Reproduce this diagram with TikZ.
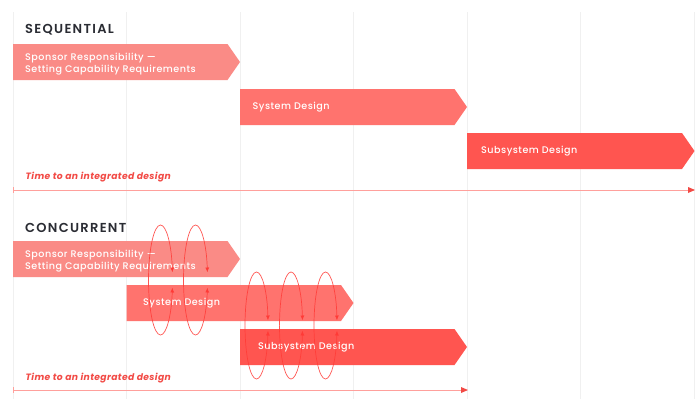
\documentclass[tikz,border=0pt]{standalone}
\usepackage{fontspec}
\setmainfont{Poppins}
\newfontfamily\pmed[LetterSpace=5]{Poppins Medium}
\newfontfamily\ptitle[LetterSpace=10]{Poppins SemiBold}
\newfontfamily\pital[LetterSpace=4]{Poppins}
\usetikzlibrary{arrows.meta}
\definecolor{gridc}{HTML}{F0F0F0}
\definecolor{boxa}{HTML}{FA8B86}
\definecolor{boxb}{HTML}{FF736E}
\definecolor{boxc}{HTML}{FF5550}
\definecolor{labred}{HTML}{F24A45}
\definecolor{axisc}{HTML}{FFA09C}
\definecolor{loopc}{HTML}{FF3A36}
\definecolor{titlec}{HTML}{2A2C33}
\newcommand{\chev}[5]{\fill[#5] (#1,#2) -- ({#3-12.5},#2) -- (#3,{(#2+#4)/2}) -- ({#3-12.5},#4) -- (#1,#4) -- cycle;}
\newcommand{\loopy}[4]{%
  \draw[loopline] (#1) ++(-#2pt,0) arc[start angle=180,end angle={asin(#4/#3)},x radius=#2pt,y radius=#3pt];
  \draw[loopline] (#1) ++(-#2pt,0) arc[start angle=180,end angle={360-asin(#4/#3)},x radius=#2pt,y radius=#3pt];}
\tikzset{
  gridline/.style={draw=gridc,line width=0.7pt},
  boxtext/.style={anchor=west,text=white,font=\pmed\fontsize{9.6}{12}\selectfont,align=left,inner sep=0pt},
  titletext/.style={anchor=west,text=titlec,font=\ptitle\fontsize{13}{15}\selectfont,inner sep=0pt},
  timetext/.style={anchor=west,text=labred,font=\pital\bfseries\itshape\fontsize{9.2}{11}\selectfont,inner sep=0pt},
  axisline/.style={draw=axisc,line width=0.8pt},
  axishead/.style={fill=labred},
  loopline/.style={draw=loopc,draw opacity=0.85,line width=0.7pt,-{Latex[length=5pt,width=4pt]}},
}
\begin{document}
\begin{tikzpicture}[x=1pt,y=-1pt]
\useasboundingbox (0,0) rectangle (700,399);
\fill[white] (0,0) rectangle (700,399);
% grid
\foreach \gx in {13,126.5,240,353.5,467,580.5,694}
  \draw[gridline] (\gx,12) -- (\gx,399);
% SEQUENTIAL
\node[titletext] (t1) at (25,29.5) {SEQUENTIAL};
\chev{13}{44}{240}{80}{boxa}
\node[boxtext] (s1) at (25,64) {Sponsor Responsibility —\\Setting Capability Requirements};
\chev{240}{89}{467}{125}{boxb}
\node[boxtext] (s2) at (252.5,107) {System Design};
\chev{467}{133}{694.5}{169}{boxc}
\node[boxtext] (s3) at (481,151) {Subsystem Design};
\node[timetext] (l1) at (25.5,177.5) {Time to an integrated design};
\coordinate (a1s) at (13,190);
\coordinate (a1e) at (688,190);
\draw[axisline] (a1s) -- (a1e);
\draw[axisline] (13,187) -- (13,193);
\fill[axishead] (688,187) -- (695,190) -- (688,193) -- cycle;
% CONCURRENT
\node[titletext] (t2) at (25,227.5) {CONCURRENT};
\chev{13}{241}{240}{277}{boxa}
\node[boxtext] (c1) at (25,261) {Sponsor Responsibility —\\Setting Capability Requirements};
\chev{126.5}{285}{353.5}{321}{boxb}
\node[boxtext] (c2) at (143,303.5) {System Design};
\chev{240}{329}{467}{365}{boxc}
\node[boxtext] (c3) at (258,347.5) {Subsystem Design};
\node[timetext] (l2) at (25.5,378.5) {Time to an integrated design};
\coordinate (a2s) at (13,390);
\coordinate (a2e) at (461,390);
\draw[axisline] (a2s) -- (a2e);
\draw[axisline] (13,387) -- (13,393);
\fill[axishead] (461,387) -- (468,390) -- (461,393) -- cycle;
% loops
\coordinate (e1) at (160.5,280);
\coordinate (e2) at (195.5,280);
\coordinate (e3) at (256.5,325.5);
\coordinate (e4) at (291,325.5);
\coordinate (e5) at (325.5,325.5);
\loopy{e1}{12}{55}{7.5}
\loopy{e2}{12}{55}{7.5}
\loopy{e3}{11.5}{53.5}{5}
\loopy{e4}{11.5}{53.5}{5}
\loopy{e5}{11.5}{53.5}{5}
\end{tikzpicture}
\end{document}
